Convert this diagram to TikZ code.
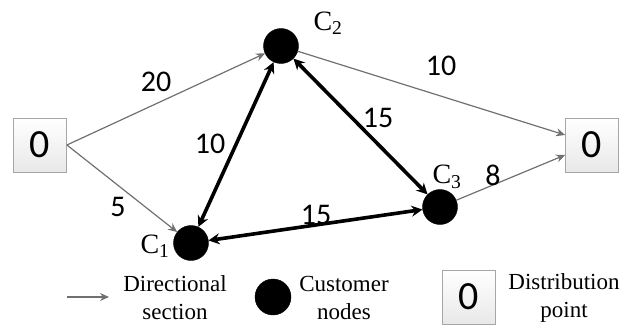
\documentclass[tikz,border=0pt]{standalone}
\usepackage{fontspec}
\setmainfont{Liberation Serif}
\newfontfamily\numfont{Carlito}
\usetikzlibrary{arrows.meta}
\definecolor{edgegray}{HTML}{707070}
\begin{document}
\begin{tikzpicture}[x=1pt,y=-1pt,
  depot/.style={draw=black!35, line width=0.8pt, top color=white, bottom color=black!9,
    minimum width=53pt, minimum height=54pt, inner sep=0pt,
    font=\numfont\fontsize{40}{40}\selectfont},
  customer/.style={circle, fill=black, draw=black, minimum size=35pt, inner sep=0pt},
  section/.style={draw=edgegray, line width=1.2pt, -{Stealth[length=9pt,width=8pt]}},
  link/.style={draw=black, line width=3.6pt,
    {Stealth[length=11pt,width=11pt]}-{Stealth[length=11pt,width=11pt]}},
  wlabel/.style={inner sep=0pt, font=\numfont\fontsize{30}{30}\selectfont},
  clabel/.style={inner sep=0pt, font=\fontsize{28}{28}\selectfont},
  legend/.style={align=center, inner sep=0pt, font=\fontsize{23}{28}\selectfont}
]
\useasboundingbox (0,0) rectangle (628,329);

% distribution points and customers
\node[depot] (D0) at (40,145) {0};
\node[depot] (D1) at (592,145) {0};
\node[customer] (C1) at (191,243) {};
\node[customer] (C2) at (281,46) {};
\node[customer] (C3) at (440,207) {};

\node[clabel] (lc1) at (155,246) {C\textsubscript{1}};
\node[clabel] (lc2) at (328,23) {C\textsubscript{2}};
\node[clabel] (lc3) at (447,177) {C\textsubscript{3}};

% directional sections
\draw[section] (D0.east) -- (C2);
\draw[section] (D0.east) -- (C1);
\draw[section] (C2) -- ([yshift=10pt]D1.west);
\draw[section] (C3) -- ([yshift=-10pt]D1.west);

% two-way links between customers
\draw[link] (C1) -- (C2);
\draw[link] (C2) -- (C3);
\draw[link] (C1) -- (C3);

% distances
\node[wlabel] (w1) at (156,82) {20};
\node[wlabel] (w2) at (441,66) {10};
\node[wlabel] (w3) at (210,144) {10};
\node[wlabel] (w4) at (378,118) {15};
\node[wlabel] (w5) at (316,215) {15};
\node[wlabel] (w6) at (118,207) {5};
\node[wlabel] (w7) at (493,175) {8};

% legend
\coordinate (la) at (67,297);
\coordinate (lb) at (109,297);
\draw[section] (la) -- (lb);
\node[legend] (lt1) at (175,298) {Directional\\section};
\node[customer, minimum size=36pt] (lcn) at (273,297) {};
\node[legend] (lt2) at (344,298) {Customer\\nodes};
\node[depot] (ld) at (469,297) {0};
\node[legend] (lt3) at (564,298) {Distribution\\point};
\end{tikzpicture}
\end{document}
